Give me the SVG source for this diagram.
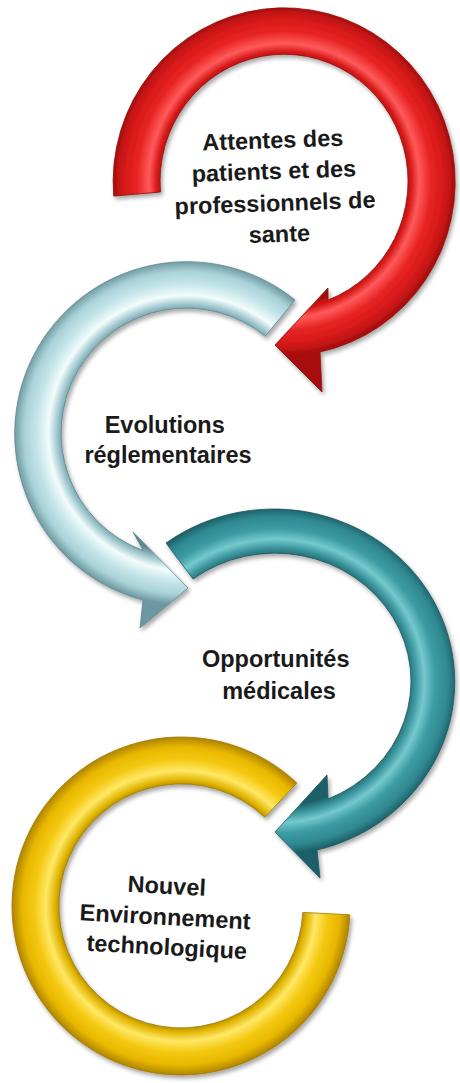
<svg xmlns="http://www.w3.org/2000/svg" width="460" height="1083" viewBox="0 0 460 1083">
  <defs>
    <filter id="shadow" x="-20%" y="-20%" width="140%" height="140%">
      <feDropShadow dx="2" dy="3" stdDeviation="2.2" flood-color="#000" flood-opacity="0.35"/>
    </filter>
    <radialGradient id="gRed" gradientUnits="userSpaceOnUse" cx="0" cy="0" r="1" gradientTransform="translate(284,181) scale(171,174)">
      <stop offset="0.70" stop-color="#9e0c0c"/>
      <stop offset="0.745" stop-color="#d81a1a"/>
      <stop offset="0.79" stop-color="#ff5a5a"/>
      <stop offset="0.86" stop-color="#e82424"/>
      <stop offset="0.94" stop-color="#d41818"/>
      <stop offset="1" stop-color="#a80e0e"/>
    </radialGradient>
    <radialGradient id="gBlue" gradientUnits="userSpaceOnUse" cx="0" cy="0" r="1" gradientTransform="translate(186,433) scale(172,172)">
      <stop offset="0.70" stop-color="#5c8690"/>
      <stop offset="0.75" stop-color="#9fc8ce"/>
      <stop offset="0.80" stop-color="#f2fcfc"/>
      <stop offset="0.87" stop-color="#c4e5e9"/>
      <stop offset="0.94" stop-color="#a9d2d8"/>
      <stop offset="1" stop-color="#6e98a1"/>
    </radialGradient>
    <radialGradient id="gTeal" gradientUnits="userSpaceOnUse" cx="0" cy="0" r="1" gradientTransform="translate(276,681) scale(181,173)">
      <stop offset="0.72" stop-color="#1c5e66"/>
      <stop offset="0.77" stop-color="#3a949c"/>
      <stop offset="0.82" stop-color="#74c9cd"/>
      <stop offset="0.88" stop-color="#3d9ca3"/>
      <stop offset="0.95" stop-color="#2f8890"/>
      <stop offset="1" stop-color="#1d5f67"/>
    </radialGradient>
    <radialGradient id="gYellow" gradientUnits="userSpaceOnUse" cx="0" cy="0" r="1" gradientTransform="translate(181,906) scale(169,169)">
      <stop offset="0.70" stop-color="#9a7400"/>
      <stop offset="0.745" stop-color="#e0b400"/>
      <stop offset="0.80" stop-color="#ffe866"/>
      <stop offset="0.87" stop-color="#f4c810"/>
      <stop offset="0.94" stop-color="#e8b800"/>
      <stop offset="1" stop-color="#b08400"/>
    </radialGradient>
  </defs>
  <style>
    .arrow { filter: url(#shadow); stroke-width: 0.8; stroke-linejoin: round; }
    .red { fill: url(#gRed); stroke: #8c0a0a; }
    .blue { fill: url(#gBlue); stroke: #5e8790; }
    .teal { fill: url(#gTeal); stroke: #1a565e; }
    .yellow { fill: url(#gYellow); stroke: #a07a00; }
    .label { font-family: "Liberation Sans", Arial, sans-serif; font-weight: bold; font-size: 23.5px; fill: #1a1a1a; text-anchor: middle; }
  </style>
  <rect width="460" height="1083" fill="#ffffff"/>

  <g id="node-technologie">
    <path class="arrow yellow" d="M296.9,783 A169,169 0 1 0 349.8,914.8 L302.8,912.4 A122,122 0 1 1 264.7,817.2 Z"/>
    <text class="label" transform="rotate(3 168 925)">
      <tspan x="168" y="894">Nouvel</tspan>
      <tspan x="168" y="925">Environnement</tspan>
      <tspan x="168" y="955">technologique</tspan>
    </text>
  </g>

  <g id="node-opportunites">
    <path class="arrow teal" d="M166,543 A181,173 0 1 1 317,850 L320,878 L275,832 L327,775 L328,799 A136,128 0 1 0 193,579 Z"/>
    <text class="label">
      <tspan x="279" y="667">Opportunités</tspan>
      <tspan x="279" y="699">médicales</tspan>
    </text>
  </g>

  <g id="node-evolutions">
    <path class="arrow blue" d="M295,300 A172,172 0 1 0 143,600 L140,628 L188,588 L133,532 L143.2,550.5 A125,125 0 1 1 265.2,336.3 Z"/>
    <text class="label">
      <tspan x="168" y="433">Evolutions</tspan>
      <tspan x="168" y="463">réglementaires</tspan>
    </text>
  </g>

  <g id="node-attentes">
    <path class="arrow red" d="M113.7,196.1 A171,174 0 1 1 320,352 L322,392 L275,345 L328,288 L328,300 A124,127 0 1 0 160.5,192 Z"/>
    <text class="label" transform="rotate(-2 278 195)">
      <tspan x="278" y="148">Attentes des</tspan>
      <tspan x="278" y="179">patients et des</tspan>
      <tspan x="278" y="211">professionnels de</tspan>
      <tspan x="278" y="242">sante</tspan>
    </text>
  </g>

  <g id="connectors"/>
</svg>
